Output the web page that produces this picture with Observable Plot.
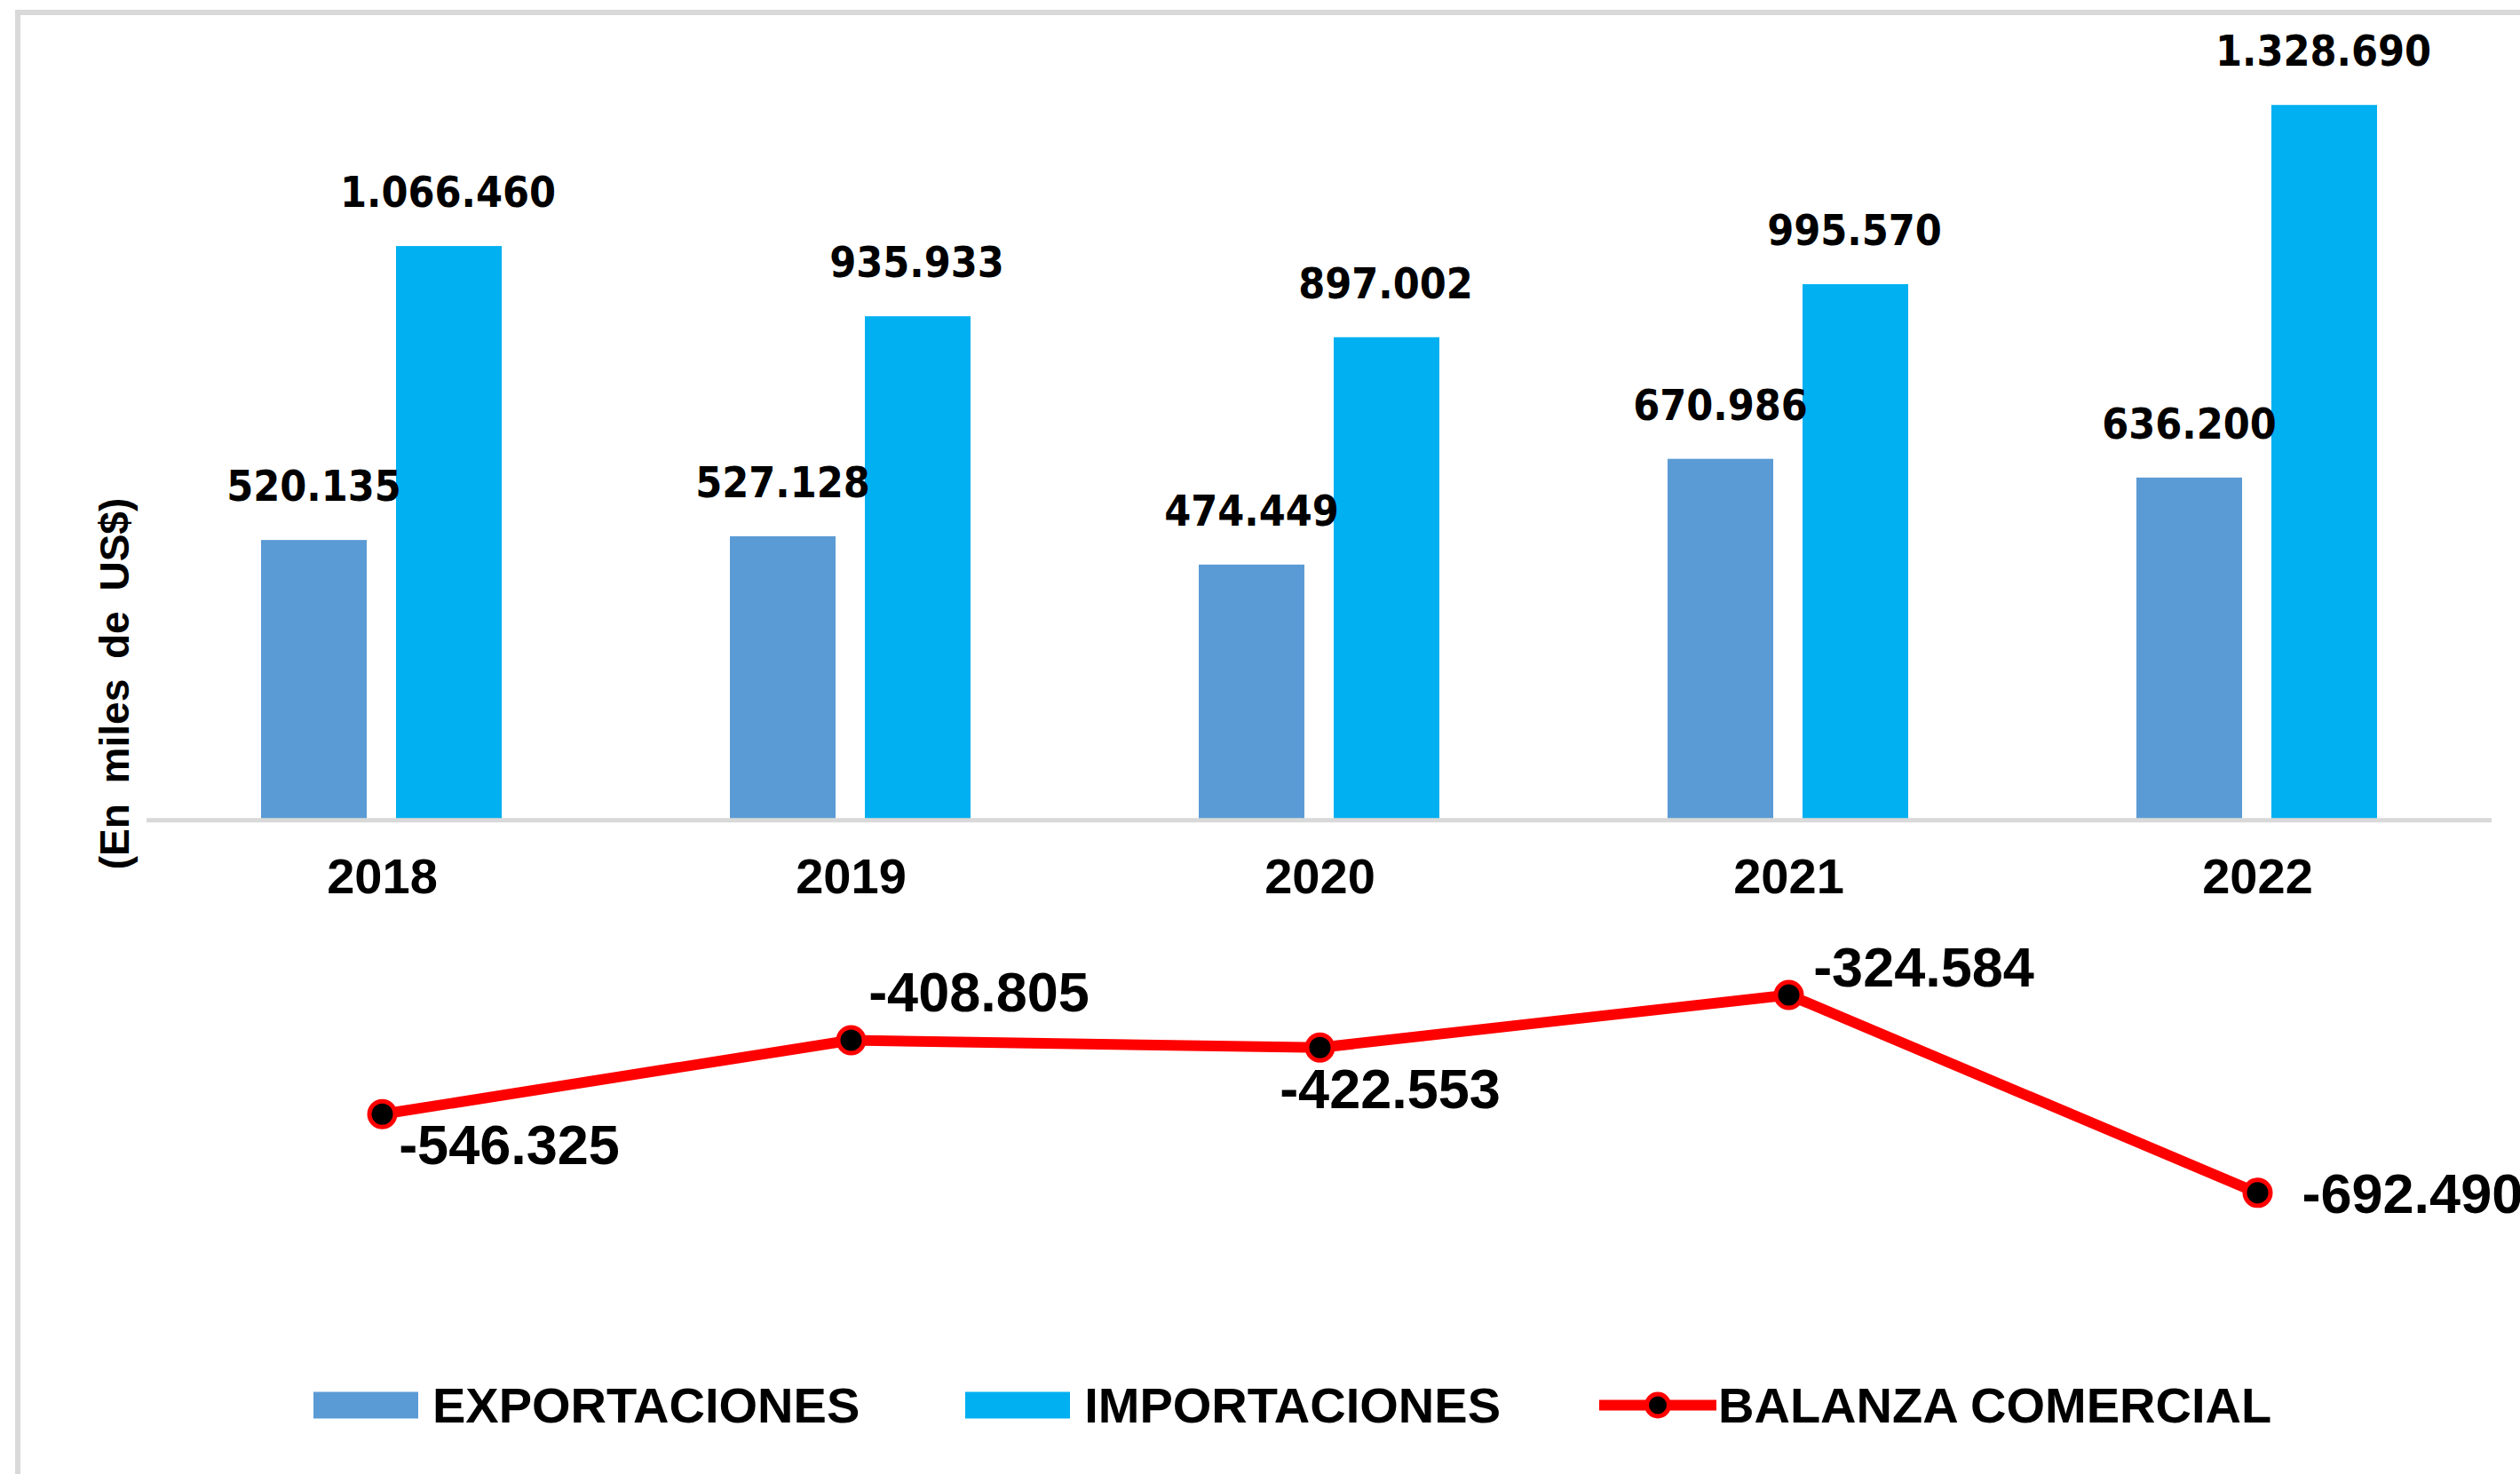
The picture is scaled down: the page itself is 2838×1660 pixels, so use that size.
<!DOCTYPE html>
<html>
<head>
<meta charset="utf-8">
<script src="https://cdn.jsdelivr.net/npm/d3@7"></script>
<script src="https://cdn.jsdelivr.net/npm/@observablehq/plot@0.6"></script>
<style>
  html, body { margin: 0; padding: 0; background: #ffffff; }
  body { width: 2838px; height: 1660px; overflow: hidden; position: relative; font-family: "Liberation Sans", Arial, sans-serif; }
  #frame { position: absolute; left: 17px; top: 11px; width: 3000px; height: 2000px; border: 6px solid #d9d9d9; box-sizing: border-box; }
  #chart { position: absolute; left: 0; top: 0; }
  #legend { position: absolute; left: 353px; top: 1582px; transform: translateY(-50%); display: flex; align-items: center; gap: 119px; }
  .item { display: flex; align-items: center; font-weight: bold; font-size: 56px; color: #000; white-space: nowrap; }
  .sw { width: 118px; height: 30px; margin-right: 16px; }
  .ylab text { word-spacing: 10px; }
</style>
</head>
<body>
<div id="frame"></div>
<div id="chart"></div>
<div id="legend"></div>
<script>
const years = ["2018", "2019", "2020", "2021", "2022"];
const exportaciones = [520135, 527128, 474449, 670986, 636200];
const importaciones = [1066460, 935933, 897002, 995570, 1328690];
const balanza = [-546325, -408805, -422553, -324584, -692490];
const seriesNames = ["EXPORTACIONES", "IMPORTACIONES", "BALANZA COMERCIAL"];
const yLabel = "(En miles de US$)";

// label placement (layout only)
const balLabelLayout = [
  {dx: 143, dy: 36, anchor: "middle"},
  {dx: 144, dy: -53, anchor: "middle"},
  {dx: 79, dy: 48, anchor: "middle"},
  {dx: 152, dy: -30, anchor: "middle"},
  {dx: 50, dy: 2, anchor: "start"}
];

const colExp = "#5b9bd5", colImp = "#00b0f0", colBal = "#ff0000";
const fmt = d3.formatLocale({decimal: ",", thousands: ".", grouping: [3], currency: ["", ""], minus: "-"}).format(",");

const table = years.map((year, i) => ({year, exp: exportaciones[i], imp: importaciones[i], bal: balanza[i]}));

const arial = "'Liberation Sans', Arial, sans-serif";
const valFont = "'DejaVu Sans Condensed', 'DejaVu Sans', Verdana, sans-serif";

const balLabels = table.map((d, i) => Plot.text([d], {
  x: "year", y: "bal", text: r => fmt(r.bal),
  dx: balLabelLayout[i].dx, dy: balLabelLayout[i].dy, textAnchor: balLabelLayout[i].anchor,
  fontSize: 63, fontWeight: "bold", fontFamily: arial, fill: "#000"
}));

const chart = Plot.plot({
  width: 2838,
  height: 1500,
  marginLeft: 165,
  marginRight: 32,
  marginTop: 75,
  marginBottom: 92,
  x: {domain: years, padding: 0, axis: null},
  y: {domain: [-800000, 1400000], axis: null},
  style: {background: "transparent", fontFamily: arial, overflow: "visible"},
  marks: [
    Plot.barY(table, {x: "year", y: "exp", fill: colExp, insetLeft: 128, insetRight: 281}),
    Plot.barY(table, {x: "year", y: "imp", fill: colImp, insetLeft: 280, insetRight: 129}),
    Plot.ruleY([0], {stroke: "#d9d9d9", strokeWidth: 5}),
    Plot.text(table, {x: "year", y: "exp", text: d => fmt(d.exp), dx: -77, dy: -60, fontSize: 48, fontWeight: "bold", fontFamily: valFont, fill: "#000"}),
    Plot.text(table, {x: "year", y: "imp", text: d => fmt(d.imp), dx: 74, dy: -60, fontSize: 48, fontWeight: "bold", fontFamily: valFont, fill: "#000"}),
    Plot.text(years, {x: d => d, y: () => 0, text: d => d, dy: 64, fontSize: 56, fontWeight: "bold", fontFamily: arial, fill: "#000"}),
    Plot.line(table, {x: "year", y: "bal", stroke: colBal, strokeWidth: 12, strokeLinejoin: "round", strokeLinecap: "round"}),
    Plot.dot(table, {x: "year", y: "bal", r: 14.5, fill: "#000", stroke: colBal, strokeWidth: 5}),
    ...balLabels,
    Plot.text([yLabel], {frameAnchor: "left", textAnchor: "middle", text: d => d, rotate: -90, dx: -35, dy: 28, fontSize: 46, fontWeight: "bold", fontFamily: arial, fill: "#000", className: "ylab"})
  ]
});
document.getElementById("chart").appendChild(chart);

// legend
const legend = document.getElementById("legend");
[colExp, colImp].forEach((c, i) => {
  const it = document.createElement("div");
  it.className = "item";
  it.innerHTML = `<div class="sw" style="background:${c}"></div><span>${seriesNames[i]}</span>`;
  legend.appendChild(it);
});
const it3 = document.createElement("div");
it3.className = "item";
it3.innerHTML = `<svg width="132" height="40" style="margin-right:2px;margin-left:-8px"><line x1="0" y1="20" x2="132" y2="20" stroke="${colBal}" stroke-width="12"/><circle cx="66" cy="20" r="12.5" fill="#000" stroke="${colBal}" stroke-width="5"/></svg><span>${seriesNames[2]}</span>`;
legend.appendChild(it3);
</script>
</body>
</html>
